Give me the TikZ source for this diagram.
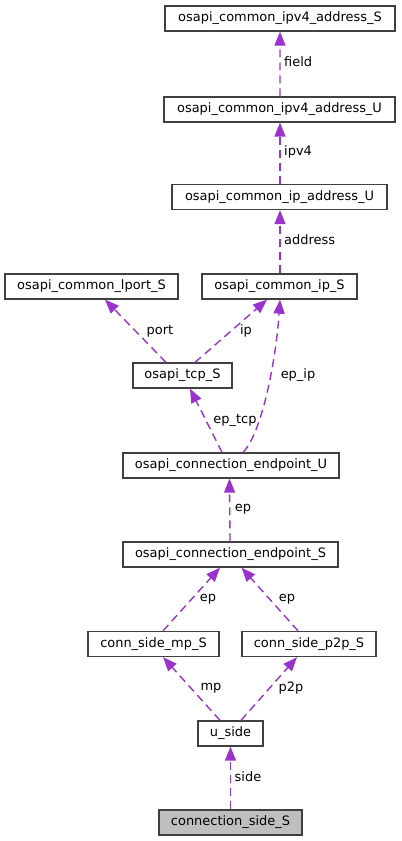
\documentclass[tikz,border=0pt]{standalone}
\usepackage{fontspec}
\setmainfont{DejaVu Sans}
\usetikzlibrary{arrows.meta}
\definecolor{edgec}{HTML}{9A32CD}
\definecolor{boxc}{HTML}{404040}
\definecolor{selc}{HTML}{BFBFBF}
\begin{document}
\begin{tikzpicture}[x=1bp,y=-1bp,
 box/.style={draw=boxc, line width=1.3bp, fill=white, inner sep=0pt, minimum height=25bp, font=\fontsize{13}{15}\selectfont},
 edge/.style={draw=edgec, line width=1.4bp, dash pattern=on 8bp off 5bp, -{Triangle[length=14bp,width=11bp]}},
 lbl/.style={font=\fontsize{13}{15}\selectfont, inner sep=0pt}]
\useasboundingbox[fill=white] (0,0) rectangle (401,841);
\node[box, minimum width=230bp] (ipv4S) at (280,18.5) {osapi\_common\_ipv4\_address\_S};
\node[box, minimum width=231bp] (ipv4U) at (279.5,109.5) {osapi\_common\_ipv4\_address\_U};
\node[box, minimum width=215bp] (ipaddrU) at (279.5,197) {osapi\_common\_ip\_address\_U};
\node[box, minimum width=173bp] (lport) at (91.5,286.5) {osapi\_common\_lport\_S};
\node[box, minimum width=155bp] (ipS) at (279.5,286.5) {osapi\_common\_ip\_S};
\node[box, minimum width=99bp] (tcp) at (182.5,375.5) {osapi\_tcp\_S};
\node[box, minimum width=216bp] (epU) at (231,465.5) {osapi\_connection\_endpoint\_U};
\node[box, minimum width=215bp] (epS) at (230.5,554.5) {osapi\_connection\_endpoint\_S};
\node[box, minimum width=131bp] (mp) at (153.5,644) {conn\_side\_mp\_S};
\node[box, minimum width=134bp] (p2p) at (309,644) {conn\_side\_p2p\_S};
\node[box, minimum width=65bp] (uside) at (230.5,733.5) {u\_side};
\node[box, minimum width=143bp, fill=selc] (cside) at (230.5,822.5) {connection\_side\_S};

\draw[edge] ([xshift=0.5bp]ipv4U.north) -- (ipv4S.south);
\node[lbl, anchor=west] (l1) at (284,62) {field};
\draw[edge] ([xshift=0.5bp]ipaddrU.north) -- ([xshift=0.5bp]ipv4U.south);
\node[lbl, anchor=west] (l2) at (284,152) {ipv4};
\draw[edge] ([xshift=0.5bp]ipS.north) -- ([xshift=0.5bp]ipaddrU.south);
\node[lbl, anchor=west] (l3) at (284,240) {address};
\draw[edge] ([xshift=-16.5bp]tcp.north) -- ([xshift=13.5bp]lport.south);
\node[lbl] (l4) at (160,331) {port};
\draw[edge] ([xshift=12.5bp]tcp.north) -- ([xshift=-12.5bp]ipS.south);
\node[lbl] (l5) at (246,331) {ip};
\draw[edge] ([xshift=12bp]epU.north) .. controls (262,433) and (276,360) .. ([xshift=0.5bp]ipS.south);
\node[lbl] (l6) at (298,375) {ep\_ip};
\draw[edge] ([xshift=-9bp]epU.north) -- ([xshift=7.5bp]tcp.south);
\node[lbl] (l7) at (235,420) {ep\_tcp};
\draw[edge] ([xshift=-0.5bp]epS.north) -- ([xshift=-1bp]epU.south -| epS.north);
\node[lbl] (l8) at (243,509) {ep};
\draw[edge] ([xshift=9.5bp]mp.north) -- ([xshift=-10.5bp]epS.south);
\node[lbl] (l9) at (208,599) {ep};
\draw[edge] ([xshift=-11bp]p2p.north) -- ([xshift=11bp]epS.south);
\node[lbl] (l10) at (287,599) {ep};
\draw[edge] ([xshift=-10.5bp]uside.north) -- ([xshift=9.5bp]mp.south);
\node[lbl] (l11) at (211,688) {mp};
\draw[edge] ([xshift=10.5bp]uside.north) -- ([xshift=-12bp]p2p.south);
\node[lbl] (l12) at (291,688) {p2p};
\draw[edge] (cside.north) -- (uside.south);
\node[lbl] (l13) at (248,777) {side};
\end{tikzpicture}
\end{document}
